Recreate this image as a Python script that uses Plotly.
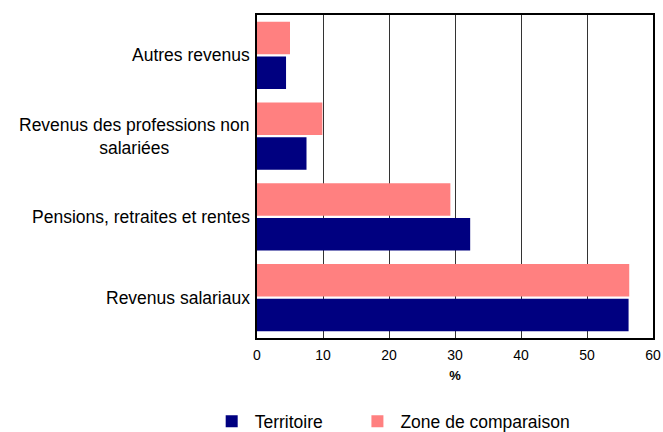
import plotly.graph_objects as go

categories = ["Revenus salariaux", "Pensions, retraites et rentes",
              "Revenus des professions non salariées", "Autres revenus"]
labels = ["Revenus salariaux", "Pensions, retraites et rentes",
          "Revenus des professions non<br>salariées", "Autres revenus"]
territoire = [56.3, 32.3, 7.5, 4.4]
zone = [56.4, 29.3, 9.9, 5.0]
x_ticks = [0, 10, 20, 30, 40, 50, 60]

FONT = "Arial, Liberation Sans, sans-serif"

fig = go.Figure()
fig.add_trace(go.Bar(y=categories, x=territoire, orientation="h", name="Territoire",
                     marker=dict(color="#000080", line=dict(width=0)), legend="legend"))
fig.add_trace(go.Bar(y=categories, x=zone, orientation="h", name="Zone de comparaison",
                     marker=dict(color="#FF8080", line=dict(width=0)), legend="legend2"))

for c, lab in zip(categories, labels):
    fig.add_annotation(x=0, xref="paper", y=c, yref="y", text=lab, showarrow=False,
                       xanchor="right", yanchor="middle", align="center", xshift=-5,
                       font=dict(family=FONT, size=17.5, color="#000000"))

leg_common = dict(orientation="h", y=-0.258, yanchor="middle", xanchor="left",
                  itemwidth=36,
                  font=dict(family=FONT, size=17.5), bgcolor="rgba(0,0,0,0)")

fig.update_layout(
    width=663, height=432,
    margin=dict(l=257, r=10, t=15, b=94, autoexpand=False),
    paper_bgcolor="white", plot_bgcolor="white",
    barmode="group", bargap=0.14, bargroupgap=0.06,
    font=dict(family=FONT, color="#000000"),
    showlegend=True,
    legend=dict(x=-0.122, **leg_common),
    legend2=dict(x=0.246, **leg_common),
    xaxis=dict(range=[0, 60], tickvals=x_ticks, ticktext=[str(v) for v in x_ticks],
               showgrid=True, gridcolor="#333333", gridwidth=1,
               showline=True, linecolor="#000000", linewidth=2, mirror=True,
               ticks="", zeroline=False, tickfont=dict(size=14, family=FONT),
               ticklabelstandoff=3,
               title=dict(text="<b>%</b>", font=dict(size=13, family=FONT), standoff=9)),
    yaxis=dict(categoryorder="array", categoryarray=categories, showticklabels=False,
               showline=True, linecolor="#000000", linewidth=2, mirror=True,
               ticks="", showgrid=False),
)

fig.write_html("out.html", config={"displayModeBar": False},
               post_script="document.body.style.margin='0px';document.body.style.overflow='hidden';")
